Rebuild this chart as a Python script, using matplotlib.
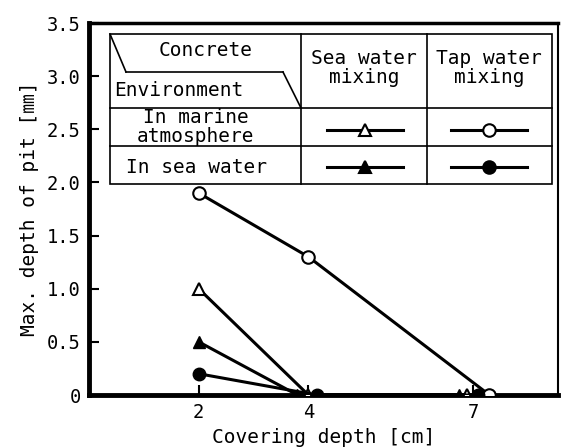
import matplotlib.pyplot as plt
from matplotlib.patches import Polygon
from matplotlib.lines import Line2D

# Data
x_tap_air = [2, 4, 7.3]
y_tap_air = [1.9, 1.3, 0]
x_sea_air = [2, 4, 6.9]
y_sea_air = [1.0, 0, 0]
x_sea_sw = [2, 3.8, 6.75]
y_sea_sw = [0.5, 0, 0]
x_tap_sw = [2, 4.15, 7.1]
y_tap_sw = [0.2, 0, 0]

x_ticks = [2, 4, 7]
y_ticks = [0, 0.5, 1.0, 1.5, 2.0, 2.5, 3.0, 3.5]
y_ticklabels = ["0", "0.5", "1.0", "1.5", "2.0", "2.5", "3.0", "3.5"]

mono = ["DejaVu Sans Mono", "Noto Sans CJK JP"]
plt.rcParams['font.family'] = mono

fig = plt.figure(figsize=(5.64, 4.48), dpi=100)
ax = fig.add_axes([89 / 564, 1 - 395 / 448, (558 - 89) / 564, (395 - 23) / 448])

lw = 2.2
ms = 9
ax.plot(x_tap_air, y_tap_air, color='black', lw=lw, marker='o', ms=ms,
        mfc='white', mec='black', mew=1.5, zorder=3)
ax.plot(x_sea_air, y_sea_air, color='black', lw=lw, marker='^', ms=ms,
        mfc='white', mec='black', mew=1.5, zorder=3)
ax.plot(x_sea_sw, y_sea_sw, color='black', lw=lw, marker='^', ms=ms,
        mfc='black', mec='black', zorder=3)
ax.plot(x_tap_sw, y_tap_sw, color='black', lw=lw, marker='o', ms=ms,
        mfc='black', mec='black', zorder=3)

ax.set_xlim(0, 8.55)
ax.set_ylim(0, 3.5)
ax.set_xticks(x_ticks)
ax.set_yticks(y_ticks)
ax.set_yticklabels(y_ticklabels)
ax.tick_params(direction='in', length=7, width=1.5, labelsize=13.5, pad=6)

for side, w in [('left', 3.5), ('bottom', 3.5), ('top', 2.5), ('right', 1.5)]:
    ax.spines[side].set_linewidth(w)

ax.set_xlabel("Covering depth [cm]", fontsize=14, labelpad=4)
ax.set_ylabel("Max. depth of pit [㎜]", fontsize=14, labelpad=6)

# Legend table drawn in pixel coordinates of the figure
def px(x, y):
    return (x / 564, 1 - y / 448)

tr = fig.transFigure
tlw = 1.2
L, R, T, B = 110, 552, 34, 184
c1, c2 = 301, 427
r1, r2 = 108, 146

def seg(x0, y0, x1, y1, w=tlw):
    fig.add_artist(Line2D([x0 / 564, x1 / 564], [1 - y0 / 448, 1 - y1 / 448],
                          transform=tr, color='black', lw=w))

fig.add_artist(Polygon([px(L, T), px(R, T), px(R, B), px(L, B)], closed=True,
                       transform=tr, facecolor='white', edgecolor='black', lw=tlw))
seg(c1, T, c1, B)
seg(c2, T, c2, B)
seg(L, r1, R, r1)
seg(L, r2, R, r2)
# slanted divider in the corner cell
seg(L, T, 126, 72)
seg(126, 72, 283, 72)
seg(283, 72, c1, r1)

fs = 14
fig.text(*px(206, 51), "Concrete", ha='center', va='center', fontsize=fs)
fig.text(*px(114, 90), "Environment", ha='left', va='center', fontsize=fs)
fig.text(*px(196, 127), "In marine\natmosphere", ha='center', va='center',
         fontsize=fs, linespacing=0.95)
fig.text(*px(196, 167), "In sea water", ha='center', va='center', fontsize=fs)
fig.text(*px(364, 68), "Sea water\nmixing", ha='center', va='center',
         fontsize=fs, linespacing=0.95)
fig.text(*px(489, 68), "Tap water\nmixing", ha='center', va='center',
         fontsize=fs, linespacing=0.95)

samples = [(365, 130, '^', 'white'), (489, 130, 'o', 'white'),
           (365, 167, '^', 'black'), (489, 167, 'o', 'black')]
for cx, cy, m, fc in samples:
    fig.add_artist(Line2D([(cx - 38) / 564, (cx + 38) / 564], [1 - cy / 448] * 2,
                          transform=tr, color='black', lw=2.2))
    fig.add_artist(Line2D([cx / 564], [1 - cy / 448], transform=tr, marker=m,
                          ms=ms, mfc=fc, mec='black', mew=1.5, ls='none'))

fig.savefig("out.png", dpi=100)
